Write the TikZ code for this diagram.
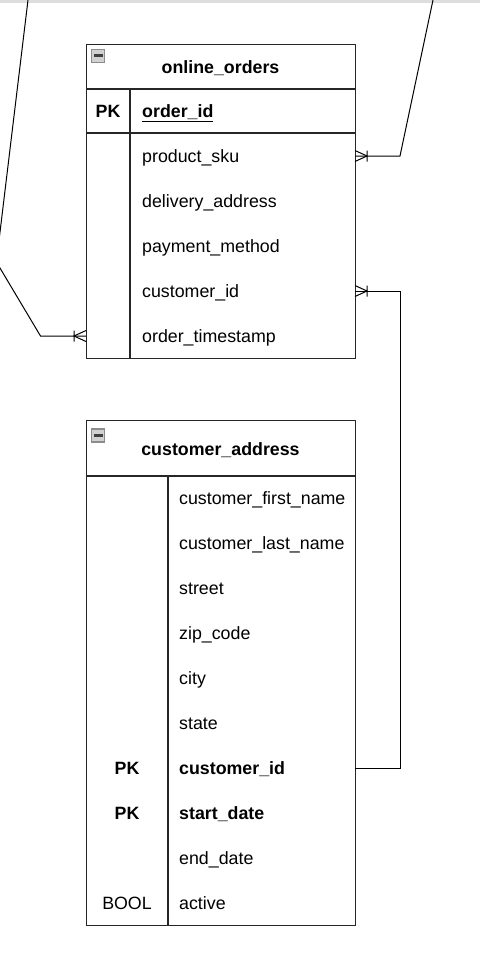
\documentclass[tikz,border=0pt]{standalone}
\usepackage{fontspec}
\setmainfont{Liberation Sans}
\newcommand\diafs{\fontsize{17.8}{21}\selectfont}
\tikzset{
  tbl/.style={draw=black!85, line width=1.3pt, fill=white, inner sep=0, anchor=north west},
  tline/.style={draw=black!85, line width=1.3pt},
  fld/.style={anchor=base west, inner sep=0, font=\diafs},
  keyfld/.style={anchor=base west, inner sep=0, font=\diafs\bfseries},
  pkc/.style={anchor=base, inner sep=0, font=\diafs\bfseries},
  ttl/.style={anchor=base, inner sep=0, font=\diafs\bfseries},
  conn/.style={line width=1pt, black},
  icon/.style={draw=black!45, fill=black!18, line width=1.2pt, minimum size=13pt, inner sep=0},
  iconbar/.style={line width=2.6pt, black!75},
  manyend/.pic={\draw[conn] (0,-5.5) -- (12,0) -- (0,5.5) (12,-5.5) -- (12,5.5);}
}
\begin{document}
\begin{tikzpicture}[x=1pt,y=-1pt]
\useasboundingbox (0,0) rectangle (480,956);
\fill[black!13] (0,0) rectangle (480,2.5);

% ---------- online_orders ----------
\node[tbl, minimum width=269pt, minimum height=314pt] (oo) at (86,44) {};
\draw[tline] (86,89) -- (355,89);
\draw[tline, line width=1.8pt] (86,133) -- (355,133);
\draw[tline] (130,89) -- (130,358);
\node[icon] (ooicon) at (98.3,55.7) {};
\draw[iconbar] ([xshift=-4.6pt]ooicon.center) -- ([xshift=4.6pt]ooicon.center);
\node[ttl] (ootitle) at (220.5,73) {online\_orders};
\node[pkc] (oopk) at (108,117.5) {PK};
\node[keyfld] (ooid) at (142,117.5) {\underline{order\_id}};
\node[fld] (oof1) at (142,162) {product\_sku};
\node[fld] (oof2) at (142,207) {delivery\_address};
\node[fld] (oof3) at (142,252) {payment\_method};
\node[fld] (oof4) at (142,297) {customer\_id};
\node[fld] (oof5) at (142,342) {order\_timestamp};

% ---------- customer_address ----------
\node[tbl, minimum width=269pt, minimum height=505pt] (ca) at (86,420) {};
\draw[tline] (86,476) -- (355,476);
\draw[tline] (168,476) -- (168,925);
\node[icon] (caicon) at (98.3,435.5) {};
\draw[iconbar] ([xshift=-4.6pt]caicon.center) -- ([xshift=4.6pt]caicon.center);
\node[ttl] (catitle) at (220.5,455) {customer\_address};
\node[fld] (caf1) at (179,504) {customer\_first\_name};
\node[fld] (caf2) at (179,549) {customer\_last\_name};
\node[fld] (caf3) at (179,594) {street};
\node[fld] (caf4) at (179,639) {zip\_code};
\node[fld] (caf5) at (179,684) {city};
\node[fld] (caf6) at (179,729) {state};
\node[pkc] (capk1) at (127,774) {PK};
\node[keyfld] (caf7) at (179,774) {customer\_id};
\node[pkc] (capk2) at (127,819) {PK};
\node[keyfld] (caf8) at (179,819) {start\_date};
\node[fld] (caf9) at (179,864) {end\_date};
\node[pkc, font=\diafs] (cabool) at (127,909) {BOOL};
\node[fld] (caf10) at (179,909) {active};

% ---------- connector end points ----------
\coordinate (oosku) at (355,156);
\coordinate (oocust) at (355,291);
\coordinate (oots) at (86,336);
\coordinate (cacust) at (355,768);
\coordinate (topL) at (28,0);
\coordinate (bendL) at (-3.6,262);
\coordinate (kneeL) at (40.5,336);
\coordinate (topR) at (433,0);
\coordinate (kneeR) at (400,156);

\begin{scope}
\clip (0,0) rectangle (480,956);
\draw[conn] (topL) -- (bendL) -- (kneeL) -- (oots);
\draw[conn] (topR) -- (kneeR) -- (oosku);
\draw[conn] (cacust) -- ++(45,0) |- (oocust);
\end{scope}
\pic at (oosku) {manyend};
\pic at (oocust) {manyend};
\pic[xscale=-1] at (oots) {manyend};
\end{tikzpicture}
\end{document}
